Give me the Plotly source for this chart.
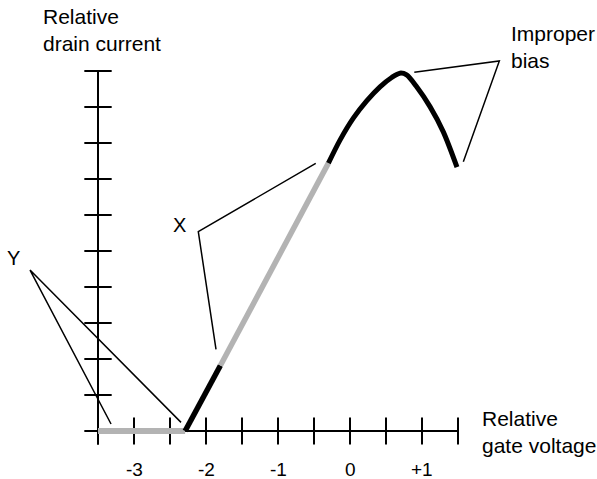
import plotly.graph_objects as go

# ---- data ----
x_tick_vals = [-3.5, -3, -2.5, -2, -1.5, -1, -0.5, 0, 0.5, 1, 1.5]
x_tick_labels = ["-3", "-2", "-1", "0", "+1"]
x_label_vals = [-3, -2, -1, 0, 1]
y_tick_vals = [1, 2, 3, 4, 5, 6, 7, 8, 9, 10]

# cutoff region (gray, flat)
cut_x = [-3.5, -2.29]
cut_y = [0, 0]
# lower black portion
low_x = [-2.29, -1.80]
low_y = [0, 1.82]
# linear region (gray)
lin_x = [-1.80, -0.30]
lin_y = [1.82, 7.44]
# improper bias curve (black)
top_x = [-0.30, -0.139, 0.046, 0.232, 0.417, 0.579, 0.694, 0.787, 0.926, 1.111, 1.296, 1.486]
top_y = [7.44, 8.08, 8.69, 9.17, 9.56, 9.82, 9.94, 9.89, 9.56, 9.01, 8.31, 7.33]

# pointer lines
y_ptr_x = [-3.319, -4.444, -2.347]
y_ptr_y = [0.194, 4.47, 0.24]
x_ptr_x = [-0.476, -2.107, -1.861]
x_ptr_y = [7.436, 5.536, 2.269]
b_ptr_x = [0.893, 2.074, 1.574]
b_ptr_y = [9.964, 10.278, 7.481]

FONT = "Liberation Sans, Arial, Helvetica, sans-serif"
GRAY = "#b3b3b3"

fig = go.Figure()

# axes
x_min, x_max = -3.5, 1.5
y_top = 10
tick_hx = 0.19   # half tick length in x units
tick_hy = 0.375  # half tick length in y units

ax_x = [x_min - tick_hx, x_max, None, x_min, x_min]
ax_y = [0, 0, None, y_top, -tick_hy]
fig.add_trace(go.Scatter(x=ax_x, y=ax_y, mode="lines",
                         line=dict(color="black", width=2), hoverinfo="skip"))

tx, ty = [], []
for v in x_tick_vals:
    tx += [v, v, None]
    ty += [-tick_hy, tick_hy, None]
for v in y_tick_vals:
    tx += [x_min - tick_hx, x_min + tick_hx, None]
    ty += [v, v, None]
fig.add_trace(go.Scatter(x=tx, y=ty, mode="lines",
                         line=dict(color="black", width=2), hoverinfo="skip"))

# curves
fig.add_trace(go.Scatter(x=cut_x, y=cut_y, mode="lines",
                         line=dict(color=GRAY, width=6), hoverinfo="skip"))
fig.add_trace(go.Scatter(x=low_x, y=low_y, mode="lines",
                         line=dict(color="black", width=5.5), hoverinfo="skip"))
fig.add_trace(go.Scatter(x=lin_x, y=lin_y, mode="lines",
                         line=dict(color=GRAY, width=5.5), hoverinfo="skip"))
fig.add_trace(go.Scatter(x=top_x, y=top_y, mode="lines",
                         line=dict(color="black", width=5, shape="spline", smoothing=0.8),
                         hoverinfo="skip"))

# pointer lines
for px, py in [(y_ptr_x, y_ptr_y), (x_ptr_x, x_ptr_y), (b_ptr_x, b_ptr_y)]:
    fig.add_trace(go.Scatter(x=px, y=py, mode="lines",
                             line=dict(color="black", width=1.5), hoverinfo="skip"))

# tick labels
for v, t in zip(x_label_vals, x_tick_labels):
    fig.add_annotation(x=v, y=-1.08, text=t, showarrow=False,
                       xanchor="center", yanchor="middle",
                       font=dict(family=FONT, size=19, color="black"))

# labels
def lab(x, y, text, xanchor="left", size=21):
    fig.add_annotation(x=x, y=y, text=text, showarrow=False, align="left",
                       xanchor=xanchor, yanchor="middle",
                       font=dict(family=FONT, size=size, color="black"))

lab(-4.29, 11.14, "Relative<br>drain current")
lab(1.81, -0.02, "Relative<br>gate voltage")
lab(2.21, 10.68, "Improper<br>bias")
lab(-2.375, 5.71, "X", xanchor="center", size=20)
lab(-4.667, 4.81, "Y", xanchor="center", size=20)

fig.update_layout(
    width=597, height=479, autosize=False,
    margin=dict(l=0, r=0, t=0, b=0),
    paper_bgcolor="white", plot_bgcolor="white",
    showlegend=False,
    xaxis=dict(range=[-350 / 72, 247 / 72], visible=False, fixedrange=True),
    yaxis=dict(range=[-48 / 36, 431 / 36], visible=False, fixedrange=True),
)

fig.write_html(
    "out.html",
    config={"displayModeBar": False},
    post_script="document.body.style.margin='0';document.body.style.overflow='hidden';",
)
